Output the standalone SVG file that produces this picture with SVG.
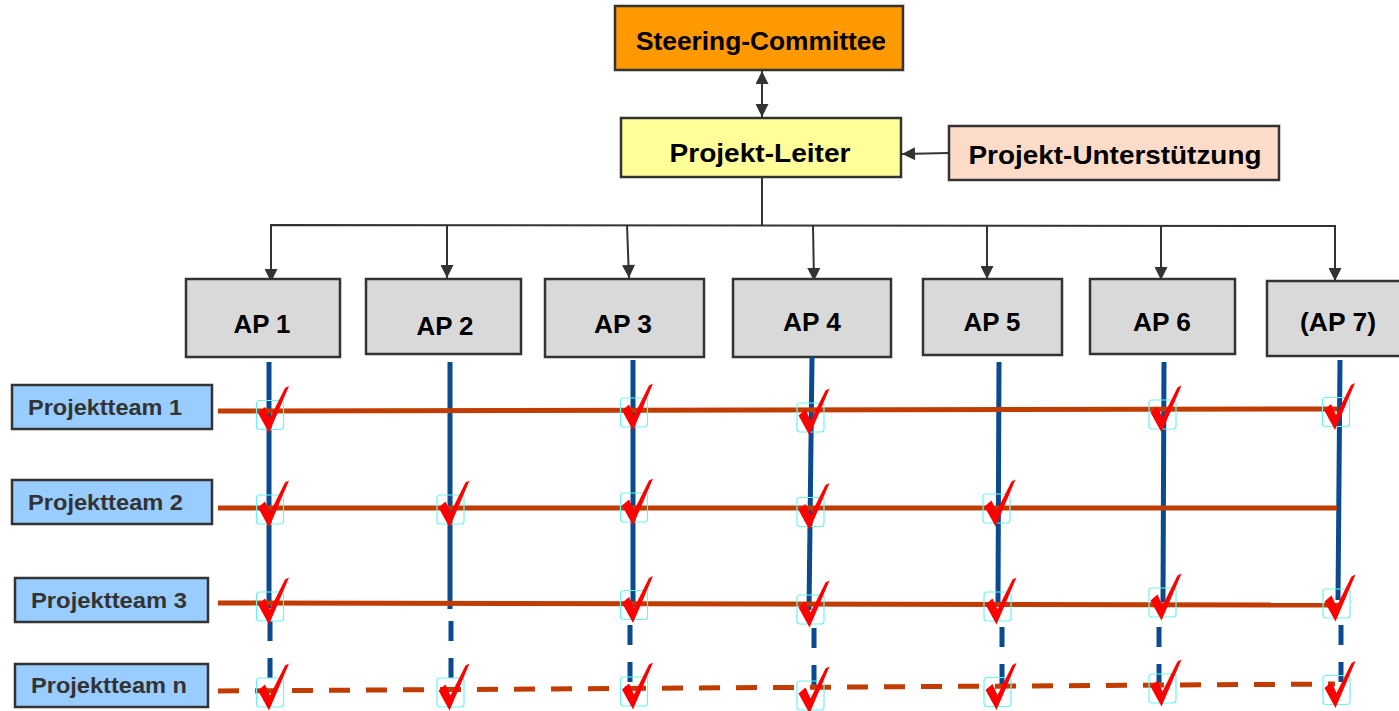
<svg xmlns="http://www.w3.org/2000/svg" xmlns:xlink="http://www.w3.org/1999/xlink" width="1399" height="711" viewBox="0 0 1399 711">
<style>
.box{stroke:#333333;stroke-width:2.5}
.t{font-family:"Liberation Sans",Arial,sans-serif;font-weight:bold;fill:#000000;text-anchor:middle}
.big{font-size:25px}
.ap{font-size:25px}
.pt{font-size:22px;fill:#333333;text-anchor:start}
.conn{stroke:#333333;stroke-width:2;fill:none}
.blue{stroke:#0A4A8E;stroke-width:5;fill:none}
.bdash{stroke:#0A4A8E;stroke-width:5;fill:none;stroke-dasharray:20 17}
.red{stroke:#C03C00;stroke-width:5;fill:none}
.rdash{stroke:#C03C00;stroke-width:5;fill:none;stroke-dasharray:21 16}
</style>
<defs>
<marker id="ah" viewBox="0 0 10 10" refX="10" refY="5" markerWidth="14" markerHeight="13" markerUnits="userSpaceOnUse" orient="auto-start-reverse">
<path d="M0,0 L10,5 L0,10 Z" fill="#333333"/>
</marker>
<g id="chk">
<rect x="-13.5" y="-14.5" width="27" height="29" rx="3" fill="none" stroke="#6CF4F4" stroke-width="1.2"/>
<path d="M-12,-2 L-5,-8 L0,3 L15,-27 L19,-29 Q9,-5 -1,18 Z" fill="#FF0000"/>
</g>
</defs>
<rect width="1399" height="711" fill="#FFFFFF"/>

<g id="connectors">
<line class="conn" x1="762" y1="71" x2="762" y2="117" marker-start="url(#ah)" marker-end="url(#ah)"/>
<line class="conn" x1="949" y1="153" x2="902" y2="154" marker-end="url(#ah)"/>
<line class="conn" x1="762" y1="177" x2="762" y2="226"/>
<polyline class="conn" points="271,240 271,225 1335,226 1335,281" marker-end="url(#ah)"/>
<line class="conn" x1="271" y1="238" x2="271" y2="282" marker-end="url(#ah)"/>
<line class="conn" x1="447" y1="225" x2="447" y2="278" marker-end="url(#ah)"/>
<line class="conn" x1="627" y1="225" x2="629" y2="278" marker-end="url(#ah)"/>
<line class="conn" x1="813" y1="226" x2="814" y2="281" marker-end="url(#ah)"/>
<line class="conn" x1="987" y1="226" x2="987" y2="279" marker-end="url(#ah)"/>
<line class="conn" x1="1161" y1="226" x2="1161" y2="280" marker-end="url(#ah)"/>
</g>

<g id="steering-committee">
<rect class="box" x="615" y="6" width="288" height="64" fill="#FF9900"/>
<text class="t big" x="761" y="50" textLength="250" lengthAdjust="spacingAndGlyphs">Steering-Committee</text>
</g>
<g id="projekt-leiter">
<rect class="box" x="621" y="118" width="280" height="59" fill="#FFFF99"/>
<text class="t big" x="760" y="162" textLength="181" lengthAdjust="spacingAndGlyphs">Projekt-Leiter</text>
</g>
<g id="projekt-unterstuetzung">
<rect class="box" x="949" y="126" width="330" height="54" fill="#FCDCC8"/>
<text class="t big" x="1115" y="164" textLength="293" lengthAdjust="spacingAndGlyphs">Projekt-Unterstützung</text>
</g>

<g id="ap1"><rect class="box" x="186" y="279" width="154" height="78" fill="#D9D9D9"/><text class="t ap" x="262" y="333" textLength="57" lengthAdjust="spacingAndGlyphs">AP 1</text></g>
<g id="ap2"><rect class="box" x="366" y="279" width="155" height="75" fill="#D9D9D9"/><text class="t ap" x="445" y="335" textLength="57" lengthAdjust="spacingAndGlyphs">AP 2</text></g>
<g id="ap3"><rect class="box" x="545" y="279" width="159" height="78" fill="#D9D9D9"/><text class="t ap" x="623" y="333" textLength="58" lengthAdjust="spacingAndGlyphs">AP 3</text></g>
<g id="ap4"><rect class="box" x="733" y="279" width="158" height="78" fill="#D9D9D9"/><text class="t ap" x="812" y="331" textLength="58" lengthAdjust="spacingAndGlyphs">AP 4</text></g>
<g id="ap5"><rect class="box" x="923" y="279" width="139" height="76" fill="#D9D9D9"/><text class="t ap" x="992" y="331" textLength="57" lengthAdjust="spacingAndGlyphs">AP 5</text></g>
<g id="ap6"><rect class="box" x="1090" y="279" width="145" height="75" fill="#D9D9D9"/><text class="t ap" x="1162" y="331" textLength="58" lengthAdjust="spacingAndGlyphs">AP 6</text></g>
<g id="ap7"><rect class="box" x="1267" y="281" width="140" height="75" fill="#D9D9D9"/><text class="t ap" x="1338" y="331" textLength="76" lengthAdjust="spacingAndGlyphs">(AP 7)</text></g>

<g id="projektteam-1"><rect class="box" x="12" y="385" width="200" height="44" fill="#99CCFF"/><text class="t pt" x="28" y="415" textLength="154" lengthAdjust="spacingAndGlyphs">Projektteam 1</text></g>
<g id="projektteam-2"><rect class="box" x="12" y="480" width="200" height="44" fill="#99CCFF"/><text class="t pt" x="28" y="510" textLength="155" lengthAdjust="spacingAndGlyphs">Projektteam 2</text></g>
<g id="projektteam-3"><rect class="box" x="15" y="578" width="193" height="44" fill="#99CCFF"/><text class="t pt" x="31" y="608" textLength="156" lengthAdjust="spacingAndGlyphs">Projektteam 3</text></g>
<g id="projektteam-n"><rect class="box" x="15" y="664" width="193" height="43" fill="#99CCFF"/><text class="t pt" x="31" y="693" textLength="156" lengthAdjust="spacingAndGlyphs">Projektteam n</text></g>

<g id="matrix">
<line class="blue" x1="269" y1="362" x2="269" y2="608"/>
<line class="bdash" x1="270" y1="621" x2="270" y2="680"/>
<line class="blue" x1="450" y1="362" x2="450" y2="609"/>
<line class="bdash" x1="451" y1="621" x2="451" y2="680"/>
<line class="blue" x1="633" y1="360" x2="633" y2="607"/>
<line class="bdash" x1="630" y1="625" x2="630" y2="684"/>
<line class="blue" x1="812" y1="357" x2="809" y2="610"/>
<line class="bdash" x1="814" y1="628" x2="814" y2="687"/>
<line class="blue" x1="999" y1="362" x2="998" y2="603"/>
<line class="bdash" x1="1002" y1="627" x2="1002" y2="686"/>
<line class="blue" x1="1164" y1="362" x2="1163" y2="602"/>
<line class="bdash" x1="1159" y1="627" x2="1159" y2="686"/>
<line class="blue" x1="1340" y1="360" x2="1338" y2="600"/>
<line class="bdash" x1="1341" y1="625" x2="1341" y2="684"/>

<line class="red" x1="218" y1="411" x2="1337" y2="409"/>
<line class="red" x1="218" y1="508" x2="1337" y2="508"/>
<line class="red" x1="218" y1="603" x2="1338" y2="605"/>
<line class="rdash" x1="218" y1="691" x2="1335" y2="684"/>

<use xlink:href="#chk" x="270" y="415"/>
<use xlink:href="#chk" x="634" y="412.5"/>
<use xlink:href="#chk" x="810.5" y="417.5"/>
<use xlink:href="#chk" x="1162.5" y="414.5"/>
<use xlink:href="#chk" x="1336" y="412"/>

<use xlink:href="#chk" x="270" y="509.5"/>
<use xlink:href="#chk" x="450.5" y="509.5"/>
<use xlink:href="#chk" x="634" y="507.5"/>
<use xlink:href="#chk" x="810.5" y="512"/>
<use xlink:href="#chk" x="996.5" y="508.5"/>

<use xlink:href="#chk" x="270" y="606.5"/>
<use xlink:href="#chk" x="634" y="605"/>
<use xlink:href="#chk" x="810.5" y="609.5"/>
<use xlink:href="#chk" x="997.5" y="606.5"/>
<use xlink:href="#chk" x="1162.5" y="602.5"/>
<use xlink:href="#chk" x="1336.5" y="603.5"/>

<use xlink:href="#chk" x="270" y="692.5"/>
<use xlink:href="#chk" x="450.5" y="692.5"/>
<use xlink:href="#chk" x="634" y="691.5"/>
<use xlink:href="#chk" x="810.5" y="695.5"/>
<use xlink:href="#chk" x="997.5" y="692"/>
<use xlink:href="#chk" x="1162.5" y="688.5"/>
<use xlink:href="#chk" x="1336.5" y="690"/>
</g>
</svg>
